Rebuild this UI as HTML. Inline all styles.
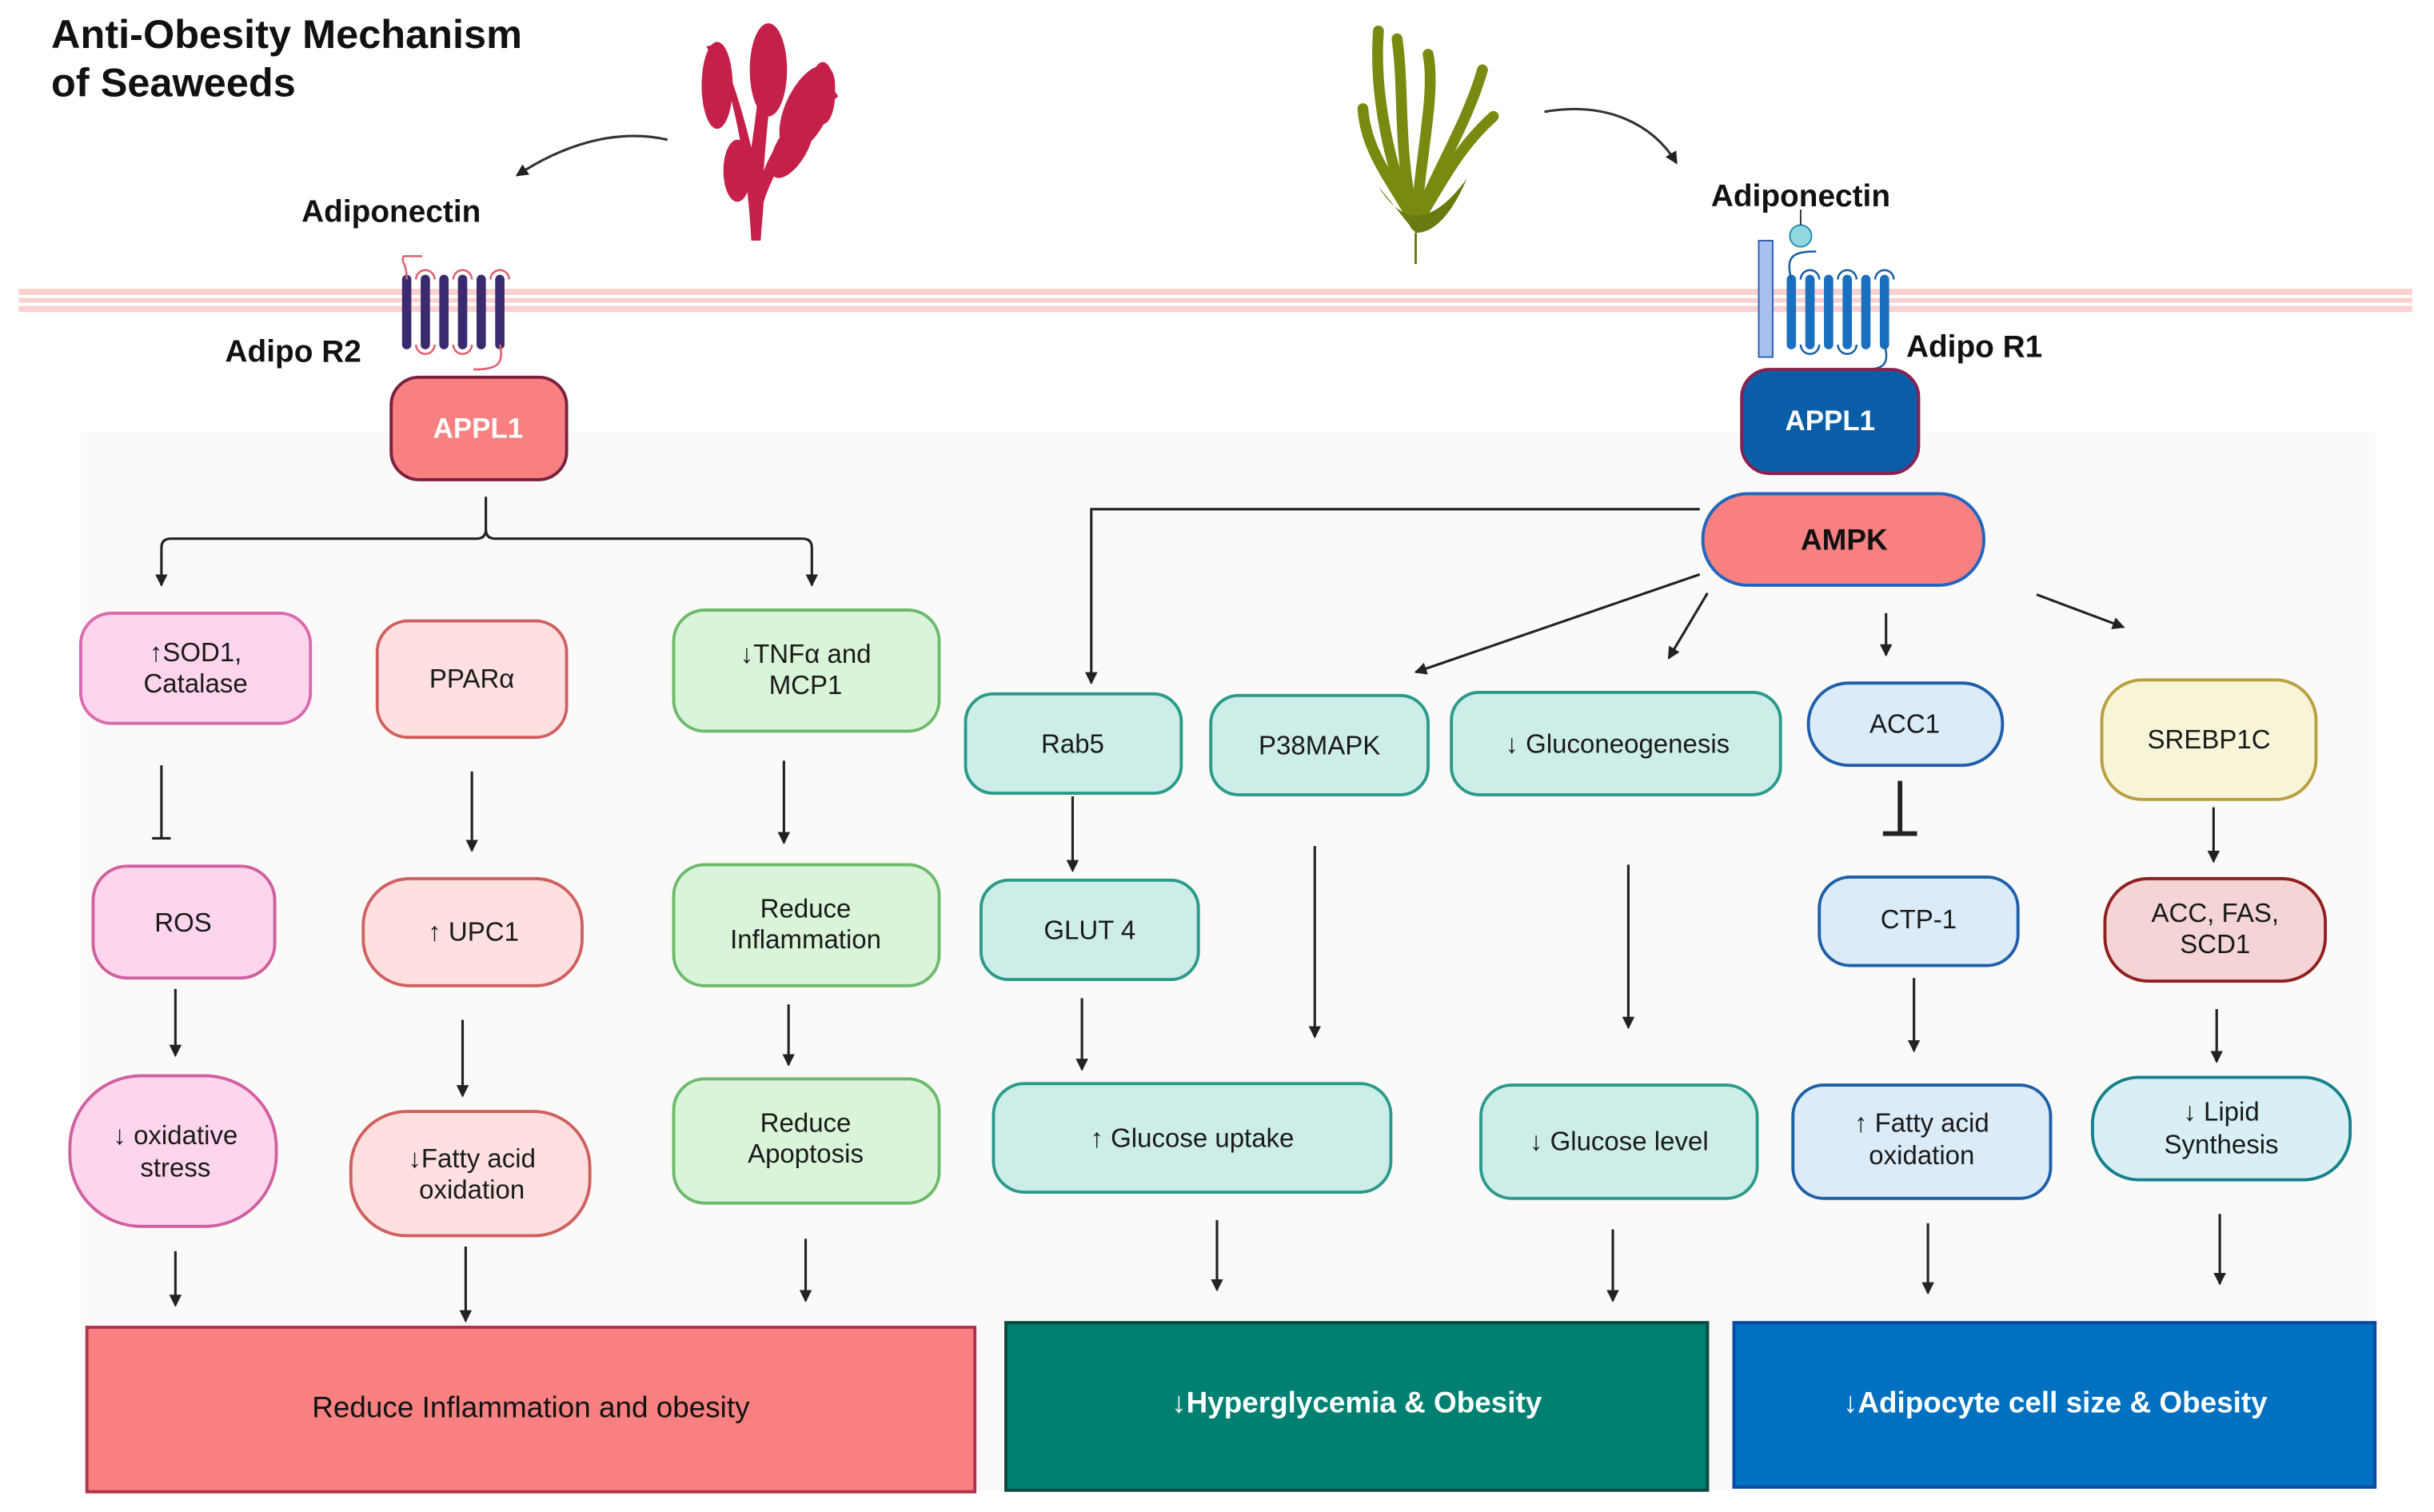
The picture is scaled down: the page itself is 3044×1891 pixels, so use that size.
<!DOCTYPE html>
<html><head><meta charset="utf-8"><style>
html,body{margin:0;padding:0;background:#fff;}
svg{display:block;}
text{font-family:"Liberation Sans",sans-serif;}
</style></head><body>
<svg width="3044" height="1891" viewBox="0 0 1568 974" preserveAspectRatio="none" xmlns="http://www.w3.org/2000/svg">
<defs>
<marker id="ah" markerWidth="8" markerHeight="8" refX="7" refY="4" orient="auto" markerUnits="userSpaceOnUse"><path d="M0,0 L8,4 L0,8 Z" fill="#222"/></marker>
</defs>
<rect width="1568" height="974" fill="#fff"/>
<rect x="52" y="278" width="1478" height="682" fill="#fbfaf8"/>
<!-- membrane -->
<rect x="12" y="186" width="1542" height="15" fill="#fbd0d0"/>
<line x1="12" y1="191" x2="1554" y2="191" stroke="#fff" stroke-width="2"/>
<line x1="12" y1="196" x2="1554" y2="196" stroke="#fff" stroke-width="2"/>
<!-- title -->
<text x="33" y="31" font-size="26" font-weight="bold" fill="#111">Anti-Obesity Mechanism</text>
<text x="33" y="62" font-size="26" font-weight="bold" fill="#111">of Seaweeds</text>
<!-- red seaweed -->
<g fill="#c4204a">
<path d="M484,155 C482,120 478,90 470,60 C465,45 458,35 455,30 L462,28 C470,45 478,70 484,95 C488,70 490,40 495,18 L502,20 C498,45 494,80 492,110 C500,90 515,70 535,55 L540,62 C518,80 500,105 492,130 L490,155 Z"/>
<ellipse cx="462" cy="55" rx="10" ry="28"/><ellipse cx="495" cy="45" rx="12" ry="30"/><ellipse cx="520" cy="70" rx="14" ry="30" transform="rotate(25 520 70)"/><ellipse cx="475" cy="110" rx="9" ry="20"/><ellipse cx="510" cy="95" rx="10" ry="22" transform="rotate(30 510 95)"/><ellipse cx="530" cy="60" rx="8" ry="20"/>
</g>
<path d="M430,90 C395,82 360,95 333,113" fill="none" stroke="#333" stroke-width="1.6" marker-end="url(#ah)"/>
<text x="252" y="143" font-size="20" font-weight="bold" text-anchor="middle" fill="#111">Adiponectin</text>
<!-- Adipo R2 receptor -->
<g stroke="#3b2a6e" stroke-width="6" stroke-linecap="round">
<line x1="262" y1="180" x2="262" y2="222"/><line x1="274" y1="180" x2="274" y2="222"/><line x1="286" y1="180" x2="286" y2="222"/><line x1="298" y1="180" x2="298" y2="222"/><line x1="310" y1="180" x2="310" y2="222"/><line x1="322" y1="180" x2="322" y2="222"/>
</g>
<path d="M262,180 C262,168 258,170 260,165 L272,165 M268,180 A6,6 0 0 1 280,180 M292,180 A6,6 0 0 1 304,180 M316,180 A6,6 0 0 1 328,180 M268,222 A6,6 0 0 0 280,222 M292,222 A6,6 0 0 0 304,222 M322,222 C325,235 320,238 305,238" fill="none" stroke="#e06070" stroke-width="1.3"/>
<text x="145" y="233" font-size="20" font-weight="bold" fill="#111">Adipo R2</text>
<rect x="252" y="243" width="113" height="66" rx="18" fill="#f88080" stroke="#7a2040" stroke-width="2"/>
<text x="308" y="282" font-size="18" font-weight="bold" text-anchor="middle" fill="#fff">APPL1</text>
<!-- green seaweed -->
<g fill="none" stroke="#7a8a10" stroke-width="7" stroke-linecap="round">
<path d="M912,145 C895,110 885,60 888,20"/><path d="M912,145 C900,100 905,60 900,25"/><path d="M912,145 C915,100 925,60 920,35"/><path d="M912,145 C925,110 945,80 955,45"/><path d="M912,145 C930,115 940,95 962,75"/><path d="M912,145 C900,120 880,100 878,70"/>
</g>
<path d="M888,120 Q912,160 945,115 Q930,150 912,150 Z" fill="#6a7a10"/>
<line x1="912" y1="150" x2="912" y2="170" stroke="#6a7a10" stroke-width="1.5"/>
<path d="M995,72 C1035,65 1065,80 1080,105" fill="none" stroke="#333" stroke-width="1.6" marker-end="url(#ah)"/>
<text x="1160" y="133" font-size="20" font-weight="bold" text-anchor="middle" fill="#111">Adiponectin</text>
<!-- Adipo R1 receptor -->
<rect x="1133" y="155" width="9" height="75" fill="#a8c0f0" stroke="#3060b0" stroke-width="1"/>
<circle cx="1160" cy="152" r="7" fill="#8fd8e0" stroke="#2a8ab0" stroke-width="1"/>
<line x1="1160" y1="135" x2="1160" y2="145" stroke="#333" stroke-width="1"/>
<g stroke="#1a70c0" stroke-width="6" stroke-linecap="round">
<line x1="1154" y1="180" x2="1154" y2="222"/><line x1="1166" y1="180" x2="1166" y2="222"/><line x1="1178" y1="180" x2="1178" y2="222"/><line x1="1190" y1="180" x2="1190" y2="222"/><line x1="1202" y1="180" x2="1202" y2="222"/><line x1="1214" y1="180" x2="1214" y2="222"/>
</g>
<path d="M1154,180 C1150,165 1155,162 1170,162 M1160,180 A6,6 0 0 1 1172,180 M1184,180 A6,6 0 0 1 1196,180 M1208,180 A6,6 0 0 1 1220,180 M1160,222 A6,6 0 0 0 1172,222 M1184,222 A6,6 0 0 0 1196,222 M1214,222 C1218,236 1212,238 1200,238" fill="none" stroke="#1a60a0" stroke-width="1.3"/>
<text x="1228" y="230" font-size="20" font-weight="bold" fill="#111">Adipo R1</text>
<rect x="1122" y="238" width="114" height="67" rx="18" fill="#0a5ea8" stroke="#8b2050" stroke-width="2"/>
<text x="1179" y="277" font-size="18" font-weight="bold" text-anchor="middle" fill="#fff">APPL1</text>
<rect x="1097" y="318" width="181" height="59" rx="29" fill="#f88080" stroke="#1e66c0" stroke-width="2"/>
<text x="1188" y="354" font-size="19" font-weight="bold" text-anchor="middle" fill="#111">AMPK</text>
<!-- connectors -->
<g fill="none" stroke="#222" stroke-width="1.6">
<path d="M313,320 V341 Q313,347 307,347 H110 Q104,347 104,353 V377" marker-end="url(#ah)"/>
<path d="M313,341 Q313,347 319,347 H517 Q523,347 523,353 V377" marker-end="url(#ah)"/>
<path d="M1095,328 H703 V440" marker-end="url(#ah)"/>
<path d="M1095,370 L912,433" marker-end="url(#ah)"/>
<path d="M1100,382 L1075,424" marker-end="url(#ah)"/>
<path d="M1215,395 V422" marker-end="url(#ah)"/>
<path d="M1312,383 L1368,404" marker-end="url(#ah)"/>
<path d="M104,493 V540 M98,540 H110"/>
<path d="M304,497 V548" marker-end="url(#ah)"/>
<path d="M505,490 V543" marker-end="url(#ah)"/>
<path d="M691,513 V561" marker-end="url(#ah)"/>
<path d="M847,545 V668" marker-end="url(#ah)"/>
<path d="M1049,557 V662" marker-end="url(#ah)"/>
<path d="M1426,520 V555" marker-end="url(#ah)"/>
<path d="M113,637 V680" marker-end="url(#ah)"/>
<path d="M298,657 V706" marker-end="url(#ah)"/>
<path d="M508,647 V686" marker-end="url(#ah)"/>
<path d="M697,643 V689" marker-end="url(#ah)"/>
<path d="M1233,630 V677" marker-end="url(#ah)"/>
<path d="M1428,650 V684" marker-end="url(#ah)"/>
<path d="M113,806 V841" marker-end="url(#ah)"/>
<path d="M300,803 V851" marker-end="url(#ah)"/>
<path d="M519,798 V838" marker-end="url(#ah)"/>
<path d="M784,786 V831" marker-end="url(#ah)"/>
<path d="M1039,792 V838" marker-end="url(#ah)"/>
<path d="M1242,788 V833" marker-end="url(#ah)"/>
<path d="M1430,782 V827" marker-end="url(#ah)"/>
</g>
<path d="M1224,503 V537 M1213,537 H1235" stroke="#222" stroke-width="3" fill="none"/>
<!-- boxes -->
<g font-size="17" text-anchor="middle" fill="#1a1a1a" stroke-width="2">
<rect x="52" y="395" width="148" height="71" rx="20" fill="#fdd5ec" stroke="#d96aae"/>
<text x="126" y="426" stroke="none">↑SOD1,</text><text x="126" y="446" stroke="none">Catalase</text>
<rect x="243" y="400" width="122" height="75" rx="20" fill="#fde0df" stroke="#d06060"/>
<text x="304" y="443" stroke="none">PPARα</text>
<rect x="434" y="393" width="171" height="78" rx="20" fill="#daf4da" stroke="#6cba6c"/>
<text x="519" y="427" stroke="none">↓TNFα and</text><text x="519" y="447" stroke="none">MCP1</text>
<rect x="622" y="447" width="139" height="64" rx="18" fill="#cdeee8" stroke="#2b9a8a"/>
<text x="691" y="485" stroke="none">Rab5</text>
<rect x="780" y="448" width="140" height="64" rx="18" fill="#cdeee8" stroke="#2b9a8a"/>
<text x="850" y="486" stroke="none">P38MAPK</text>
<rect x="935" y="446" width="212" height="66" rx="18" fill="#cdeee8" stroke="#2b9a8a"/>
<text x="1042" y="485" stroke="none">↓ Gluconeogenesis</text>
<rect x="1165" y="440" width="125" height="53" rx="26" fill="#dcebf8" stroke="#1e5fa8"/>
<text x="1227" y="472" stroke="none">ACC1</text>
<rect x="1354" y="438" width="138" height="77" rx="26" fill="#f8f4d8" stroke="#b8a040"/>
<text x="1423" y="482" stroke="none">SREBP1C</text>
<rect x="60" y="558" width="117" height="72" rx="22" fill="#fdd5ec" stroke="#d060a0"/>
<text x="118" y="600" stroke="none">ROS</text>
<rect x="234" y="566" width="141" height="69" rx="30" fill="#fde0df" stroke="#d06060"/>
<text x="305" y="606" stroke="none">↑ UPC1</text>
<rect x="434" y="557" width="171" height="78" rx="20" fill="#daf4da" stroke="#6cba6c"/>
<text x="519" y="591" stroke="none">Reduce</text><text x="519" y="611" stroke="none">Inflammation</text>
<rect x="632" y="567" width="140" height="64" rx="18" fill="#cdeee8" stroke="#2b9a8a"/>
<text x="702" y="605" stroke="none">GLUT 4</text>
<rect x="1172" y="565" width="128" height="57" rx="20" fill="#dcebf8" stroke="#1e5fa8"/>
<text x="1236" y="598" stroke="none">CTP-1</text>
<rect x="1356" y="566" width="142" height="66" rx="28" fill="#f4d4d4" stroke="#902020"/>
<text x="1427" y="594" stroke="none">ACC, FAS,</text><text x="1427" y="614" stroke="none">SCD1</text>
<rect x="45" y="693" width="133" height="97" rx="46" fill="#fdd5ec" stroke="#d060a0"/>
<text x="113" y="737" stroke="none">↓ oxidative</text><text x="113" y="758" stroke="none">stress</text>
<rect x="226" y="716" width="154" height="80" rx="36" fill="#fde0df" stroke="#d06060"/>
<text x="304" y="752" stroke="none">↓Fatty acid</text><text x="304" y="772" stroke="none">oxidation</text>
<rect x="434" y="695" width="171" height="80" rx="20" fill="#daf4da" stroke="#6cba6c"/>
<text x="519" y="729" stroke="none">Reduce</text><text x="519" y="749" stroke="none">Apoptosis</text>
<rect x="640" y="698" width="256" height="70" rx="20" fill="#cdeee8" stroke="#2b9a8a"/>
<text x="768" y="739" stroke="none">↑ Glucose uptake</text>
<rect x="954" y="699" width="178" height="73" rx="20" fill="#cdeee8" stroke="#2b9a8a"/>
<text x="1043" y="741" stroke="none">↓ Glucose level</text>
<rect x="1155" y="699" width="166" height="73" rx="20" fill="#dcebf8" stroke="#1e5fa8"/>
<text x="1238" y="729" stroke="none">↑ Fatty acid</text><text x="1238" y="750" stroke="none">oxidation</text>
<rect x="1348" y="694" width="166" height="66" rx="30" fill="#d8f0f4" stroke="#15808c"/>
<text x="1431" y="722" stroke="none">↓ Lipid</text><text x="1431" y="743" stroke="none">Synthesis</text>
</g>
<!-- outcome boxes -->
<rect x="56" y="855" width="572" height="106" fill="#f88080" stroke="#b03050" stroke-width="2"/>
<text x="342" y="913" font-size="19" text-anchor="middle" fill="#111">Reduce Inflammation and obesity</text>
<rect x="648" y="852" width="452" height="108" fill="#008070" stroke="#0a4a40" stroke-width="2"/>
<text x="874" y="910" font-size="19" font-weight="bold" text-anchor="middle" fill="#fff">↓Hyperglycemia &amp; Obesity</text>
<rect x="1117" y="852" width="413" height="106" fill="#0070c0" stroke="#0a4aa0" stroke-width="2"/>
<text x="1324" y="910" font-size="19" font-weight="bold" text-anchor="middle" fill="#fff">↓Adipocyte cell size &amp; Obesity</text>
</svg>
</body></html>
